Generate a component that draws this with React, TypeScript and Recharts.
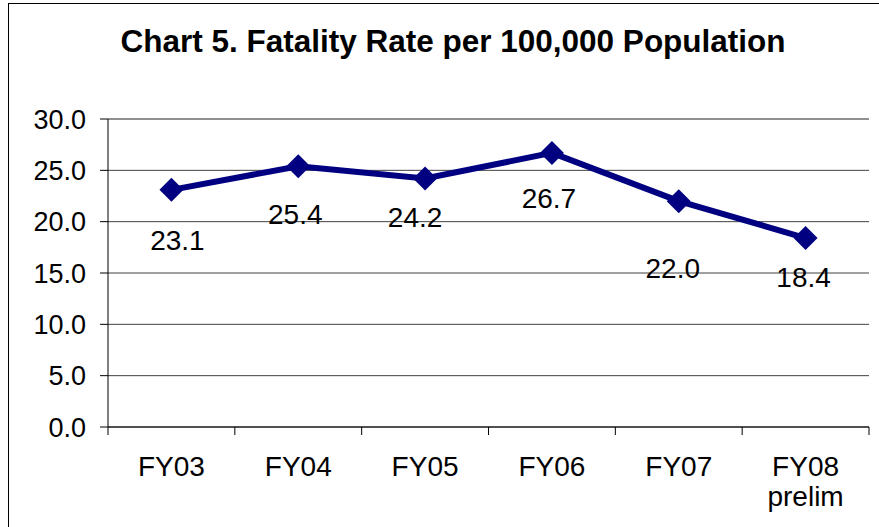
import React from "react";
import { LineChart, Line, XAxis, YAxis, CartesianGrid, ReferenceLine, LabelList } from "recharts";

const years = ["FY03", "FY04", "FY05", "FY06", "FY07", "FY08 prelim"];
const fatalityRate = [23.1, 25.4, 24.2, 26.7, 22.0, 18.4];
const yTicks = [0, 5, 10, 15, 20, 25, 30];

const chartData = years.map((year, i) => ({ year, rate: fatalityRate[i] }));

// the labels in the original were dragged by hand, so each gets its own nudge
const labelNudge = [
  { dx: 6, dy: 60 },
  { dx: -3, dy: 58 },
  { dx: -10, dy: 48 },
  { dx: -3, dy: 55 },
  { dx: -6, dy: 77 },
  { dx: -2, dy: 49 },
];

const W = 879;
const H = 527;
const Y_AXIS_W = 60;
const margin = { top: 119, right: 10, bottom: 40, left: 48 };
const band = (W - margin.left - Y_AXIS_W - margin.right) / years.length;

const FONT = "'Liberation Sans', Arial, Helvetica, sans-serif";
const NAVY = "#000080";

const CategoryTick = (props: any) => {
  const { x, y, payload, index } = props;
  const lines = String(payload.value).split(" ");
  const left = x - band / 2;
  const right = x + band / 2;
  return (
    <g>
      <line x1={left} x2={left} y1={y - 8} y2={y} stroke="#000" />
      {index === years.length - 1 && <line x1={right} x2={right} y1={y - 8} y2={y} stroke="#000" />}
      <text x={x} y={y + 41} textAnchor="middle" fontSize={28} fontFamily={FONT} fill="#000">
        {lines.map((l, i) => (
          <tspan key={i} x={x} dy={i === 0 ? 0 : 30}>
            {l}
          </tspan>
        ))}
      </text>
    </g>
  );
};

const Diamond = (props: any) => {
  const { cx, cy, index } = props;
  if (cx == null || cy == null) return null;
  const s = 12;
  return (
    <polygon
      key={index}
      points={`${cx},${cy - s} ${cx + s},${cy} ${cx},${cy + s} ${cx - s},${cy}`}
      fill={NAVY}
    />
  );
};

const PointLabel = (props: any) => {
  const { index, value } = props;
  const x = props.x ?? props.viewBox?.x;
  const y = props.y ?? props.viewBox?.y;
  if (x == null || y == null) return null;
  const n = labelNudge[index] || { dx: 0, dy: 50 };
  return (
    <text x={x + n.dx} y={y + n.dy} textAnchor="middle" fontSize={28} fontFamily={FONT} fill="#000">
      {Number(value).toFixed(1)}
    </text>
  );
};

export default function App() {
  return (
    <div style={{ position: "relative", width: W, height: H, overflow: "hidden", background: "#fff" }}>
      <style>{`body{margin:0;overflow:hidden}`}</style>
      <svg width={W} height={H} style={{ position: "absolute", left: 0, top: 0 }}>
        <rect x={8.5} y={3.5} width={900} height={600} fill="none" stroke="#000" strokeWidth={1} />
        <text x={453} y={52} textAnchor="middle" fontSize={31.5} fontWeight="bold" fontFamily={FONT} fill="#000">
          Chart 5. Fatality Rate per 100,000 Population
        </text>
      </svg>
      <div style={{ position: "absolute", left: 0, top: 0 }}>
        <LineChart width={W} height={H} data={chartData} margin={margin}>
          <CartesianGrid vertical={false} stroke="#404040" />
          <ReferenceLine y={30} stroke="#808080" />
          <XAxis
            dataKey="year"
            scale="band"
            height={60}
            axisLine={{ stroke: "#000" }}
            tickLine={false}
            tickSize={8}
            tickMargin={0}
            interval={0}
            tick={<CategoryTick />}
          />
          <YAxis
            width={Y_AXIS_W}
            domain={[0, 30]}
            ticks={yTicks}
            tickFormatter={(v: number) => v.toFixed(1)}
            axisLine={{ stroke: "#000" }}
            tickLine={{ stroke: "#000" }}
            tickSize={8}
            tickMargin={14}
            tick={{ fill: "#000", fontSize: 27, fontFamily: FONT }}
          />
          <YAxis
            yAxisId="right"
            orientation="right"
            width={0}
            domain={[0, 30]}
            tick={false}
            tickLine={false}
            axisLine={{ stroke: "#808080" }}
          />
          <Line
            dataKey="rate"
            stroke={NAVY}
            strokeWidth={6}
            dot={<Diamond />}
            activeDot={false}
            isAnimationActive={false}
          >
            <LabelList dataKey="rate" content={<PointLabel />} />
          </Line>
        </LineChart>
      </div>
    </div>
  );
}
